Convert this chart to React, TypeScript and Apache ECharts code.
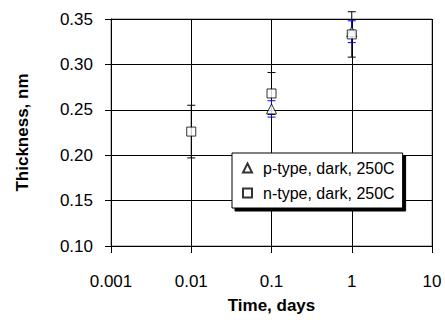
import React, { useEffect, useRef } from "react";
import * as echarts from "echarts";

const xTickLabels = ["0.001", "0.01", "0.1", "1", "10"];
const yTickLabels = ["0.10", "0.15", "0.20", "0.25", "0.30", "0.35"];

const seriesNames = ["p-type, dark, 250C", "n-type, dark, 250C"];

// p-type: time (days), thickness (nm), error (nm)
const pTime = [0.1, 1];
const pThickness = [0.251, 0.336];
const pError = [0.009, 0.012];

// n-type
const nTime = [0.01, 0.1, 1];
const nThickness = [0.226, 0.268, 0.333];
const nError = [0.029, 0.023, 0.025];

const FONT = "Liberation Sans, Arial, sans-serif";

function errorSeries(time: number[], val: number[], err: number[], color: string, z: number) {
  return {
    type: "custom",
    z,
    silent: true,
    clip: false,
    encode: { x: 0, y: 1 },
    data: time.map((t, i) => [t, val[i], err[i]]),
    renderItem: (_p: any, api: any) => {
      const x = api.value(0);
      const y = api.value(1);
      const e = api.value(2);
      const top = api.coord([x, y + e]);
      const bot = api.coord([x, y - e]);
      const hw = 4;
      const style = { stroke: color, lineWidth: 1 };
      return {
        type: "group",
        children: [
          { type: "line", shape: { x1: top[0], y1: top[1], x2: bot[0], y2: bot[1] }, style },
          { type: "line", shape: { x1: top[0] - hw, y1: top[1], x2: top[0] + hw, y2: top[1] }, style },
          { type: "line", shape: { x1: bot[0] - hw, y1: bot[1], x2: bot[0] + hw, y2: bot[1] }, style },
        ],
      };
    },
  };
}

export default function App() {
  const ref = useRef<HTMLDivElement>(null);
  useEffect(() => {
    if (!ref.current) return;
    const chart = echarts.init(ref.current, undefined, { renderer: "svg" });
    chart.setOption({
      animation: false,
      backgroundColor: "#fff",
      textStyle: { fontFamily: FONT },
      grid: {
        left: 111,
        right: 13,
        top: 19,
        bottom: 74,
        show: true,
        borderColor: "#808080",
        borderWidth: 1,
        backgroundColor: "#fff",
      },
      xAxis: {
        type: "log",
        logBase: 10,
        min: 0.001,
        max: 10,
        name: "Time, days",
        nameLocation: "middle",
        nameGap: 51,
        nameTextStyle: { fontFamily: FONT, fontSize: 17, fontWeight: "bold", color: "#000" },
        axisLine: { show: true, lineStyle: { color: "#000", width: 1 } },
        axisTick: { show: true, inside: false, length: 7, lineStyle: { color: "#000" } },
        axisLabel: {
          margin: 27,
          fontFamily: FONT,
          fontSize: 17,
          color: "#000",
          formatter: (v: number) => {
            const i = Math.round(Math.log10(v)) + 3;
            return xTickLabels[i] ?? String(v);
          },
        },
        splitLine: { show: true, lineStyle: { color: "#000", width: 1 } },
      },
      yAxis: {
        type: "value",
        min: 0.1,
        max: 0.35,
        interval: 0.05,
        name: "Thickness, nm",
        nameLocation: "middle",
        nameGap: 80,
        nameRotate: 90,
        nameTextStyle: { fontFamily: FONT, fontSize: 17, fontWeight: "bold", color: "#000" },
        axisLine: { show: true, lineStyle: { color: "#000", width: 1 } },
        axisTick: { show: true, inside: false, length: 6, lineStyle: { color: "#000" } },
        axisLabel: {
          margin: 18,
          fontFamily: FONT,
          fontSize: 17,
          color: "#000",
          formatter: (v: number) => {
            const i = Math.round((v - 0.1) / 0.05);
            return yTickLabels[i] ?? v.toFixed(2);
          },
        },
        splitLine: { show: true, lineStyle: { color: "#000", width: 1 } },
      },
      legend: {
        orient: "vertical",
        left: 232,
        top: 153,
        width: 174,
        data: seriesNames,
        backgroundColor: "#fff",
        borderColor: "#000",
        borderWidth: 1,
        borderRadius: 0,
        shadowColor: "#000",
        shadowBlur: 0,
        shadowOffsetX: 3,
        shadowOffsetY: 3,
        padding: [7, 8, 7, 10],
        itemGap: 9,
        itemWidth: 9,
        itemHeight: 9,
        textStyle: { fontFamily: FONT, fontSize: 16, color: "#000", padding: [0, 0, 0, 6] },
      },
      series: [
        errorSeries(nTime, nThickness, nError, "#000", 2),
        errorSeries(pTime, pThickness, pError, "#0000ff", 3),
        {
          name: seriesNames[0],
          type: "scatter",
          z: 4,
          symbol: "triangle",
          symbolSize: 10,
          itemStyle: { color: "#fff", borderColor: "#000", borderWidth: 1 },
          data: pTime.map((t, i) => [t, pThickness[i]]),
        },
        {
          name: seriesNames[1],
          type: "scatter",
          z: 5,
          symbol: "rect",
          symbolSize: 9,
          itemStyle: { color: "#fff", borderColor: "#000", borderWidth: 1 },
          data: nTime.map((t, i) => [t, nThickness[i]]),
        },
      ],
    });
    return () => chart.dispose();
  }, []);
  return (
    <div
      ref={ref}
      style={{ position: "absolute", left: 0, top: 0, width: 445, height: 320 }}
    />
  );
}
